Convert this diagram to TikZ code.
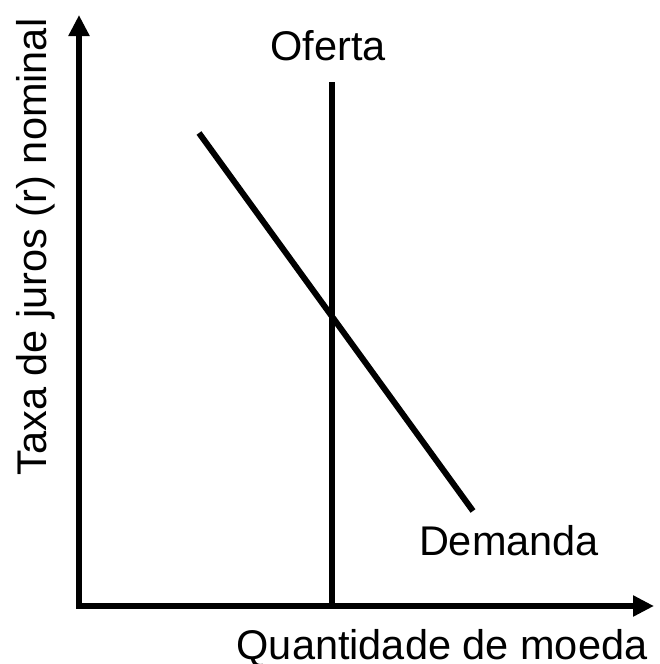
\documentclass[tikz,border=0pt]{standalone}
\usepackage{fontspec}
\setmainfont{Liberation Sans}
\usetikzlibrary{arrows.meta}
\begin{document}
\begin{tikzpicture}[x=1pt,y=-1pt,
  curve/.style={line width=6pt,line cap=butt},
  axisline/.style={line width=5.5pt,-{Triangle[length=21pt,width=20pt]}},
  lbl/.style={inner sep=0pt,anchor=base,font=\fontsize{41.5}{50}\selectfont}]
\useasboundingbox (0,0) rectangle (660,664);
% axes
\coordinate (O) at (79,606);
\coordinate (ytop) at (79,15);
\coordinate (xend) at (654,606);
\draw[axisline] (O) -- (ytop);
\draw[axisline] ([xshift=-2.75pt]O) -- (xend);
% supply
\coordinate (s1) at (332,82);
\coordinate (s2) at (332,606);
\draw[curve] (s1) -- (s2);
% demand
\coordinate (d1) at (199,133);
\coordinate (d2) at (473,511);
\draw[curve] (d1) -- (d2);
% labels
\node[lbl] (oferta) at (328,60) {Oferta};
\node[lbl] (demanda) at (509,555) {Demanda};
\node[lbl] (xlabel) at (442,659) {Quantidade de moeda};
\node[lbl,rotate=90] (ylabel) at (46,247) {Taxa de juros (r) nominal};
\end{tikzpicture}
\end{document}
